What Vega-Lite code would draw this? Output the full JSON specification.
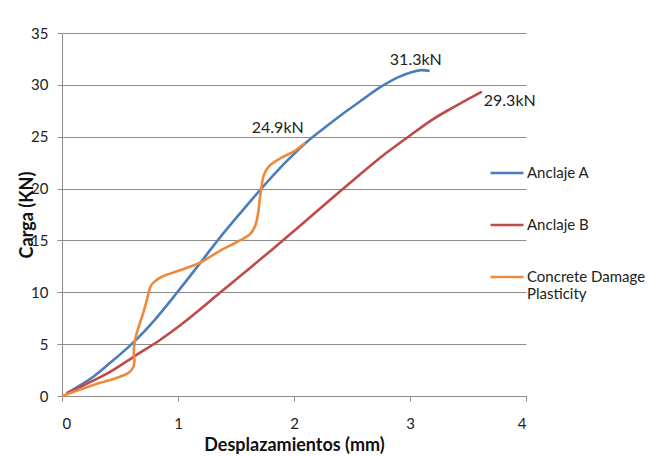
{
  "$schema": "https://vega.github.io/schema/vega-lite/v6.json",
  "width": 464,
  "height": 363,
  "autosize": {"type": "none"},
  "padding": {"left": 62, "top": 33, "right": 122, "bottom": 61},
  "background": "white",
  "config": {
    "view": {"stroke": null},
    "font": "Lato",
    "text": {"font": "Lato"}
  },
  "datasets": {
    "curves": [
      {"serie": "Anclaje A", "i": 1, "x": 0.04, "y": 0.26},
      {"serie": "Anclaje A", "i": 2, "x": 0.27, "y": 1.86},
      {"serie": "Anclaje A", "i": 3, "x": 0.41, "y": 3.15},
      {"serie": "Anclaje A", "i": 4, "x": 0.6, "y": 5.0},
      {"serie": "Anclaje A", "i": 5, "x": 0.8, "y": 7.35},
      {"serie": "Anclaje A", "i": 6, "x": 0.994, "y": 10.0},
      {"serie": "Anclaje A", "i": 7, "x": 1.19, "y": 12.8},
      {"serie": "Anclaje A", "i": 8, "x": 1.356, "y": 15.2},
      {"serie": "Anclaje A", "i": 9, "x": 1.55, "y": 17.8},
      {"serie": "Anclaje A", "i": 10, "x": 1.735, "y": 20.2},
      {"serie": "Anclaje A", "i": 11, "x": 1.92, "y": 22.45},
      {"serie": "Anclaje A", "i": 12, "x": 2.11, "y": 24.5},
      {"serie": "Anclaje A", "i": 13, "x": 2.28, "y": 26.0},
      {"serie": "Anclaje A", "i": 14, "x": 2.45, "y": 27.45},
      {"serie": "Anclaje A", "i": 15, "x": 2.6, "y": 28.65},
      {"serie": "Anclaje A", "i": 16, "x": 2.74, "y": 29.75},
      {"serie": "Anclaje A", "i": 17, "x": 2.9, "y": 30.75},
      {"serie": "Anclaje A", "i": 18, "x": 3.02, "y": 31.25},
      {"serie": "Anclaje A", "i": 19, "x": 3.1, "y": 31.42},
      {"serie": "Anclaje A", "i": 20, "x": 3.17, "y": 31.33},
      {"serie": "Anclaje B", "i": 1, "x": 0.04, "y": 0.26},
      {"serie": "Anclaje B", "i": 2, "x": 0.2, "y": 1.1},
      {"serie": "Anclaje B", "i": 3, "x": 0.41, "y": 2.3},
      {"serie": "Anclaje B", "i": 4, "x": 0.64, "y": 3.95},
      {"serie": "Anclaje B", "i": 5, "x": 0.845, "y": 5.4},
      {"serie": "Anclaje B", "i": 6, "x": 1.075, "y": 7.3},
      {"serie": "Anclaje B", "i": 7, "x": 1.356, "y": 9.9},
      {"serie": "Anclaje B", "i": 8, "x": 1.6, "y": 12.15},
      {"serie": "Anclaje B", "i": 9, "x": 1.82, "y": 14.2},
      {"serie": "Anclaje B", "i": 10, "x": 2.05, "y": 16.4},
      {"serie": "Anclaje B", "i": 11, "x": 2.31, "y": 18.9},
      {"serie": "Anclaje B", "i": 12, "x": 2.5, "y": 20.7},
      {"serie": "Anclaje B", "i": 13, "x": 2.74, "y": 22.95},
      {"serie": "Anclaje B", "i": 14, "x": 2.98, "y": 24.95},
      {"serie": "Anclaje B", "i": 15, "x": 3.2, "y": 26.7},
      {"serie": "Anclaje B", "i": 16, "x": 3.4, "y": 28.0},
      {"serie": "Anclaje B", "i": 17, "x": 3.62, "y": 29.35},
      {"serie": "Concrete Damage Plasticity", "i": 1, "x": 0.0, "y": 0.0},
      {"serie": "Concrete Damage Plasticity", "i": 2, "x": 0.27, "y": 1.06},
      {"serie": "Concrete Damage Plasticity", "i": 3, "x": 0.5, "y": 1.86},
      {"serie": "Concrete Damage Plasticity", "i": 4, "x": 0.58, "y": 2.3},
      {"serie": "Concrete Damage Plasticity", "i": 5, "x": 0.615, "y": 2.8},
      {"serie": "Concrete Damage Plasticity", "i": 6, "x": 0.625, "y": 3.4},
      {"serie": "Concrete Damage Plasticity", "i": 7, "x": 0.618, "y": 4.1},
      {"serie": "Concrete Damage Plasticity", "i": 8, "x": 0.63, "y": 5.4},
      {"serie": "Concrete Damage Plasticity", "i": 9, "x": 0.665, "y": 6.8},
      {"serie": "Concrete Damage Plasticity", "i": 10, "x": 0.7, "y": 8.0},
      {"serie": "Concrete Damage Plasticity", "i": 11, "x": 0.73, "y": 9.2},
      {"serie": "Concrete Damage Plasticity", "i": 12, "x": 0.745, "y": 9.9},
      {"serie": "Concrete Damage Plasticity", "i": 13, "x": 0.765, "y": 10.6},
      {"serie": "Concrete Damage Plasticity", "i": 14, "x": 0.8, "y": 11.05},
      {"serie": "Concrete Damage Plasticity", "i": 15, "x": 0.86, "y": 11.5},
      {"serie": "Concrete Damage Plasticity", "i": 16, "x": 0.93, "y": 11.8},
      {"serie": "Concrete Damage Plasticity", "i": 17, "x": 1.06, "y": 12.3},
      {"serie": "Concrete Damage Plasticity", "i": 18, "x": 1.19, "y": 12.85},
      {"serie": "Concrete Damage Plasticity", "i": 19, "x": 1.36, "y": 14.0},
      {"serie": "Concrete Damage Plasticity", "i": 20, "x": 1.5, "y": 14.8},
      {"serie": "Concrete Damage Plasticity", "i": 21, "x": 1.62, "y": 15.6},
      {"serie": "Concrete Damage Plasticity", "i": 22, "x": 1.665, "y": 16.4},
      {"serie": "Concrete Damage Plasticity", "i": 23, "x": 1.69, "y": 17.6},
      {"serie": "Concrete Damage Plasticity", "i": 24, "x": 1.705, "y": 19.0},
      {"serie": "Concrete Damage Plasticity", "i": 25, "x": 1.72, "y": 20.2},
      {"serie": "Concrete Damage Plasticity", "i": 26, "x": 1.74, "y": 21.3},
      {"serie": "Concrete Damage Plasticity", "i": 27, "x": 1.78, "y": 22.1},
      {"serie": "Concrete Damage Plasticity", "i": 28, "x": 1.88, "y": 22.9},
      {"serie": "Concrete Damage Plasticity", "i": 29, "x": 2.0, "y": 23.6},
      {"serie": "Concrete Damage Plasticity", "i": 30, "x": 2.095, "y": 24.4}
    ],
    "labels": [
      {"t": "31.3kN", "x": 3.05, "y": 32.4},
      {"t": "29.3kN", "x": 3.86, "y": 28.45},
      {"t": "24.9kN", "x": 1.86, "y": 25.85}
    ]
  },
  "layer": [
    {
      "data": {"name": "curves"},
      "mark": {"type": "line", "interpolate": "catmull-rom", "strokeWidth": 2.6},
      "encoding": {
        "x": {
          "field": "x", "type": "quantitative",
          "scale": {"domain": [0, 4], "nice": false, "zero": true},
          "axis": {
            "values": [0, 1, 2, 3, 4], "format": "d", "grid": false,
            "domainColor": "#8c8c8c", "tickColor": "#8c8c8c", "tickSize": 5,
            "labelFontSize": 15, "labelColor": "#222", "labelPadding": 15,
            "title": "Desplazamientos (mm)", "titleFontSize": 18, "titleFontWeight": "bold",
            "titleColor": "#111", "titleY": 49, "titleBaseline": "middle"
          }
        },
        "y": {
          "field": "y", "type": "quantitative",
          "scale": {"domain": [0, 35], "nice": false},
          "axis": {
            "values": [0, 5, 10, 15, 20, 25, 30, 35], "grid": true,
            "gridColor": "#8c8c8c", "gridWidth": 1,
            "domainColor": "#8c8c8c", "tickColor": "#8c8c8c", "tickSize": 5,
            "labelFontSize": 15, "labelColor": "#222", "labelPadding": 9,
            "title": "Carga (KN)", "titleFontSize": 18, "titleFontWeight": "bold",
            "titleColor": "#111", "titleX": -35, "titleY": 181.5, "titleAngle": -90,
            "titleAlign": "center", "titleBaseline": "middle"
          }
        },
        "color": {
          "field": "serie", "type": "nominal",
          "scale": {
            "domain": ["Anclaje A", "Anclaje B", "Concrete Damage Plasticity"],
            "range": ["#4a7ebb", "#be4b48", "#ee8a3c"]
          },
          "legend": {
            "title": null, "orient": "none", "legendX": 427, "legendY": 122,
            "symbolType": "stroke", "symbolSize": 1089, "symbolStrokeWidth": 2.6,
            "labelFontSize": 15, "labelColor": "#222", "labelOffset": 2,
            "labelLimit": 300, "rowPadding": 26, "labelLineHeight": 20,
            "labelExpr": "datum.label == 'Concrete Damage Plasticity' ? ['Concrete Damage', 'Plasticity'] : datum.label"
          }
        },
        "order": {"field": "i", "type": "quantitative"}
      }
    },
    {
      "data": {"name": "labels"},
      "mark": {"type": "text", "fontSize": 16, "color": "#222", "align": "center", "baseline": "middle"},
      "encoding": {
        "x": {"field": "x", "type": "quantitative"},
        "y": {"field": "y", "type": "quantitative"},
        "text": {"field": "t", "type": "nominal"}
      }
    }
  ]
}
